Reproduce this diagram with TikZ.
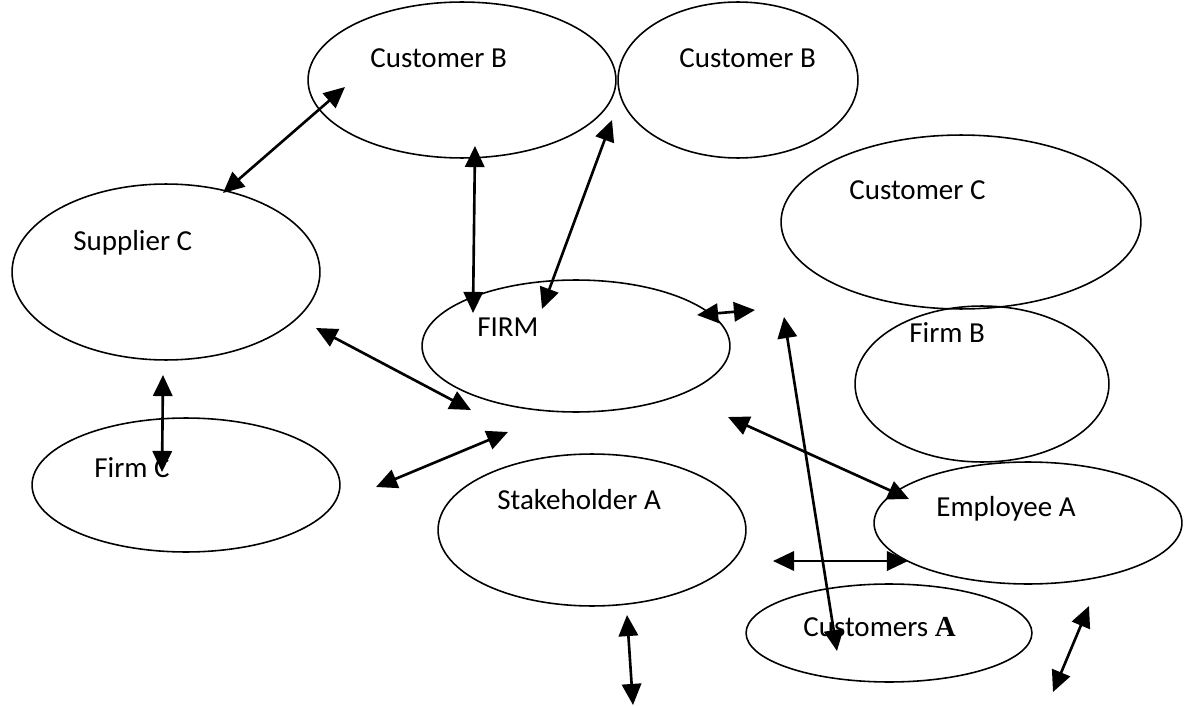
\documentclass[tikz,border=0pt]{standalone}
\usepackage{fontspec}
\setmainfont{Carlito}
\newfontfamily\timesfont{Liberation Serif}
\usetikzlibrary{shapes.geometric,arrows.meta}
\begin{document}
\begin{tikzpicture}[x=0.02cm,y=-0.02cm,
  ell/.style 2 args={draw, ellipse, line width=0.9pt, inner sep=0pt,
    minimum width=#1*0.04cm, minimum height=#2*0.04cm},
  lbl/.style={anchor=base west, inner sep=0pt,
    font=\fontsize{16.5}{20}\selectfont},
  link/.style={line width=1.5pt,
    {Triangle[length=12pt,width=11pt]}-{Triangle[length=12pt,width=11pt]}}]
\useasboundingbox (0,0) rectangle (1184,706);

% ellipses (centre, half width, half height in px units)
\node[ell={154}{78}]  (cbl)  at (462,80)  {};
\node[ell={120}{78}]  (cbr)  at (738,80)  {};
\node[ell={180}{87}]  (cc)   at (961,222) {};
\node[ell={154}{88}]  (sup)  at (166,272) {};
\node[ell={154}{66}]  (firm) at (576,346) {};
\node[ell={127}{78}]  (fb)   at (982,384) {};
\node[ell={154}{67}]  (fc)   at (186,485) {};
\node[ell={154}{76}]  (sta)  at (592,530) {};
\node[ell={154}{61}]  (emp)  at (1028,523) {};
\node[ell={143}{49}]  (ca)   at (889,633) {};

% labels
\node[lbl] (tcbl) at (370,68)  {Customer B};
\node[lbl] (tcbr) at (679,68)  {Customer B};
\node[lbl] (tcc)  at (849,199) {Customer C};
\node[lbl] (tsup) at (73,251)  {Supplier C};
\node[lbl] (tfirm) at (477,336) {FIRM};
\node[lbl] (tfb)  at (909,342) {Firm B};
\node[lbl] (tfc)  at (94,477)  {Firm C};
\node[lbl] (tsta) at (497,509) {Stakeholder A};
\node[lbl] (temp) at (936,516) {Employee A};
\node[lbl] (tca)  at (803,636) {Customers {\timesfont\bfseries A}};

% connector end points
\coordinate (a1) at (223,193);  \coordinate (b1) at (345,87);
\coordinate (a2) at (475,146);  \coordinate (b2) at (473,313);
\coordinate (a3) at (612,120);  \coordinate (b3) at (542,309);
\coordinate (a4) at (697,315);  \coordinate (b4) at (755,310);
\coordinate (a5) at (784,317);  \coordinate (b5) at (837,651);
\coordinate (a6) at (316,328);  \coordinate (b6) at (471,410);
\coordinate (a7) at (163,375);  \coordinate (b7) at (162,472);
\coordinate (a8) at (508,432);  \coordinate (b8) at (376,487);
\coordinate (a9) at (728,417);  \coordinate (b9) at (909,499);
\coordinate (a10) at (773,561); \coordinate (b10) at (908,561);
\coordinate (a11) at (627,615); \coordinate (b11) at (633,705);
\coordinate (a12) at (1089,606); \coordinate (b12) at (1053,692);

% double-headed connectors
\foreach \i in {1,...,12} \draw[link] (a\i) -- (b\i);
\end{tikzpicture}
\end{document}
